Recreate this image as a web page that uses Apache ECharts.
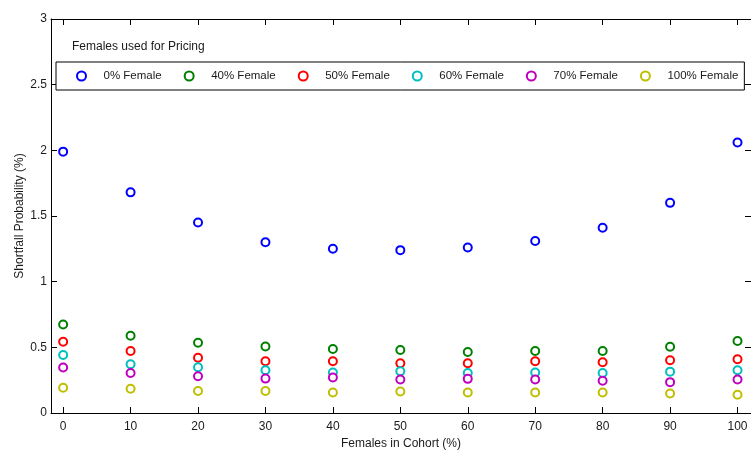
<!DOCTYPE html>
<html>
<head>
<meta charset="utf-8">
<script src="https://cdn.jsdelivr.net/npm/echarts@6/dist/echarts.min.js"></script>
<style>
  html, body { margin: 0; padding: 0; background: #fff; }
  #chart { width: 751px; height: 455px; }
</style>
</head>
<body>
<div id="chart"></div>
<script>
// Females in the cohort (%) along the x axis
const cohortShares = [0, 10, 20, 30, 40, 50, 60, 70, 80, 90, 100];
const xTickValues = [0, 10, 20, 30, 40, 50, 60, 70, 80, 90, 100];

// Shortfall probability (%) for each pricing assumption
const female0 = [1.99, 1.68, 1.45, 1.30, 1.25, 1.24, 1.26, 1.31, 1.41, 1.60, 2.06];
const female40 = [0.674, 0.588, 0.535, 0.507, 0.487, 0.480, 0.464, 0.472, 0.472, 0.505, 0.548];
const female50 = [0.542, 0.472, 0.421, 0.394, 0.394, 0.379, 0.379, 0.394, 0.386, 0.402, 0.409];
const female60 = [0.442, 0.371, 0.348, 0.326, 0.308, 0.318, 0.305, 0.308, 0.305, 0.315, 0.326];
const female70 = [0.346, 0.305, 0.280, 0.262, 0.270, 0.255, 0.260, 0.255, 0.245, 0.235, 0.255];
const female100 = [0.192, 0.184, 0.167, 0.167, 0.156, 0.164, 0.156, 0.156, 0.156, 0.149, 0.139];

const seriesNames = ['0% Female', '40% Female', '50% Female', '60% Female', '70% Female', '100% Female'];
const seriesValues = [female0, female40, female50, female60, female70, female100];
const seriesColors = ['#0000ff', '#008000', '#ff0000', '#00bfbf', '#bf00bf', '#bfbf00'];

const FONT = 'Liberation Sans, Arial, sans-serif';
const INK = '#1a1a1a';

const chart = echarts.init(document.getElementById('chart'), null, { renderer: 'canvas' });

const series = seriesNames.map((name, i) => ({
  name: name,
  type: 'scatter',
  symbol: 'emptyCircle',
  symbolSize: 8,
  itemStyle: { color: seriesColors[i], borderColor: seriesColors[i], borderWidth: 2, opacity: 1 },
  emphasis: { disabled: true },
  data: cohortShares.map((x, j) => [x, seriesValues[i][j]])
}));

const frameLine = { show: true, onZero: false, lineStyle: { color: '#000', width: 1 } };
const innerTicks = { show: true, inside: true, length: 6, lineStyle: { color: '#000', width: 1 } };

chart.setOption({
  animation: false,
  backgroundColor: '#fff',
  textStyle: { fontFamily: FONT },
  title: {
    text: 'Females used for Pricing',
    left: 72,
    top: 41,
    padding: 0,
    textStyle: { fontFamily: FONT, fontSize: 12, fontWeight: 'normal', color: INK }
  },
  legend: {
    data: seriesNames,
    left: 56,
    top: 62,
    orient: 'horizontal',
    padding: [8, 6, 8, 20],
    itemGap: 22,
    itemWidth: 34,
    itemHeight: 9,
    icon: 'emptyCircle',
    itemStyle: { borderWidth: 2 },
    backgroundColor: '#fff',
    borderColor: '#000',
    borderWidth: 1,
    borderRadius: 0,
    selectedMode: false,
    textStyle: { fontFamily: FONT, fontSize: 11.5, color: INK }
  },
  grid: { left: 51, top: 19, width: 701, height: 396, containLabel: false },
  xAxis: [
    {
      type: 'value',
      min: -1.8,
      max: 102,
      position: 'bottom',
      name: 'Females in Cohort (%)',
      nameLocation: 'middle',
      nameGap: 25,
      nameMoveOverlap: false,
      nameTextStyle: { fontFamily: FONT, fontSize: 12, color: INK },
      axisLine: frameLine,
      axisTick: Object.assign({ customValues: xTickValues }, innerTicks),
      axisLabel: { customValues: xTickValues, margin: 8, fontFamily: FONT, fontSize: 12, color: INK },
      splitLine: { show: false }
    },
    {
      type: 'value',
      min: -1.8,
      max: 102,
      position: 'top',
      axisLine: frameLine,
      axisTick: Object.assign({ customValues: xTickValues }, innerTicks),
      axisLabel: { show: false },
      splitLine: { show: false }
    }
  ],
  yAxis: [
    {
      type: 'value',
      min: 0,
      max: 3,
      interval: 0.5,
      position: 'left',
      name: 'Shortfall Probability (%)',
      nameLocation: 'middle',
      nameGap: 25,
      nameMoveOverlap: false,
      nameTextStyle: { fontFamily: FONT, fontSize: 12, color: INK },
      axisLine: frameLine,
      axisTick: innerTicks,
      axisLabel: { margin: 4, fontFamily: FONT, fontSize: 12, color: INK },
      splitLine: { show: false }
    },
    {
      type: 'value',
      min: 0,
      max: 3,
      interval: 0.5,
      position: 'right',
      axisLine: frameLine,
      axisTick: innerTicks,
      axisLabel: { show: false },
      splitLine: { show: false }
    }
  ],
  series: series
});
</script>
</body>
</html>
